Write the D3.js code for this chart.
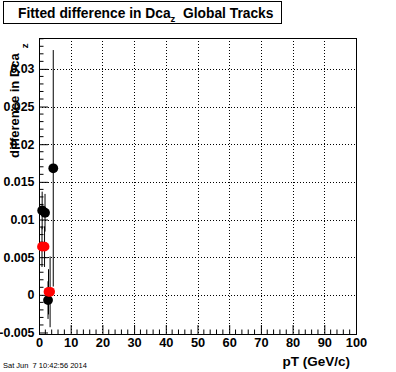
<!DOCTYPE html>
<html>
<head>
<meta charset="utf-8">
<script src="https://cdn.jsdelivr.net/npm/d3@7"></script>
<style>
  body { margin: 0; background: #fff; }
  text { font-family: "Liberation Sans", Arial, sans-serif; }
</style>
</head>
<body>
<svg id="chart" width="396" height="372"></svg>
<script>
// black series (pT, value, error)
var blackPt  = [1.0, 1.9, 4.5, 2.85];
var blackVal = [0.0112, 0.0109, 0.0168, -0.0007];
var blackErr = [0.0025, 0.0025, 0.0157, 0.0025];
// red series
var redPt  = [0.95, 1.75, 3.0, 3.5];
var redVal = [0.0064, 0.0064, 0.0004, 0.0004];
var redErr = [0.0027, 0.0027, 0.0030, 0.0047];

var xTicks = [0, 10, 20, 30, 40, 50, 60, 70, 80, 90, 100];
var yTicks = [-0.005, 0, 0.005, 0.01, 0.015, 0.02, 0.025, 0.03];

var svg = d3.select("#chart");
var padL = 39, padR = 356, padT = 38, padB = 334;

var x = d3.scaleLinear().domain([0, 100]).range([padL, padR]);
var y = d3.scaleLinear().domain([-0.0052, 0.0341]).range([padB, padT]);

// grid
svg.append("g").selectAll("line").data(xTicks.slice(1, -1)).enter().append("line")
  .attr("x1", d => Math.round(x(d)) + 0.5).attr("x2", d => Math.round(x(d)) + 0.5)
  .attr("y1", padT).attr("y2", padB)
  .attr("stroke", "#000").attr("stroke-width", 1).attr("stroke-dasharray", "1,2");
svg.append("g").selectAll("line").data(yTicks.filter(d => d > -0.005)).enter().append("line")
  .attr("x1", padL).attr("x2", padR)
  .attr("y1", d => Math.round(y(d)) + 0.5).attr("y2", d => Math.round(y(d)) + 0.5)
  .attr("stroke", "#000").attr("stroke-width", 1).attr("stroke-dasharray", "1,2");

// axes
var xAxis = d3.axisBottom(x).tickValues(xTicks).tickSize(-9).tickPadding(4)
  .tickFormat(d3.format("d"));
var gx = svg.append("g").attr("transform", "translate(0," + padB + ")").call(xAxis);
var xMinor = d3.range(0, 100.1, 2).filter(d => d % 10 != 0);
gx.selectAll(".minor").data(xMinor).enter().append("line").attr("class", "minor")
  .attr("x1", d => x(d)).attr("x2", d => x(d)).attr("y1", 0).attr("y2", -4.5)
  .attr("stroke", "#000");

var yAxis = d3.axisLeft(y).tickValues(yTicks).tickSize(-9).tickPadding(4.5)
  .tickFormat(d => d == 0 ? "0" : String(+d.toFixed(3)));
var gy = svg.append("g").attr("transform", "translate(" + padL + ",0)").call(yAxis);
var yMinor = d3.range(-0.005, 0.0341, 0.001).filter(d => Math.abs(Math.round(d * 1000) % 5) != 0);
gy.selectAll(".minor").data(yMinor).enter().append("line").attr("class", "minor")
  .attr("x1", 0).attr("x2", 4.5).attr("y1", d => y(d)).attr("y2", d => y(d))
  .attr("stroke", "#000");

[gx, gy].forEach(function(g) {
  g.select(".domain").remove();
  g.selectAll("text").attr("font-size", 12.8).attr("font-weight", "bold")
    .attr("font-family", "Liberation Sans, Arial, sans-serif").attr("fill", "#000");
  g.selectAll(".tick line").attr("stroke", "#000");
});
gy.selectAll("text").attr("font-size", 12.4);

// frame
svg.append("rect").attr("x", padL + 0.5).attr("y", padT + 0.5)
  .attr("width", padR - padL).attr("height", padB - padT)
  .attr("fill", "none").attr("stroke", "#000");

// error bars + markers
function series(pt, val, err, color) {
  var g = svg.append("g");
  g.selectAll("line").data(pt).enter().append("line")
    .attr("x1", d => x(d)).attr("x2", d => x(d))
    .attr("y1", (d, i) => y(val[i] + err[i])).attr("y2", (d, i) => y(val[i] - err[i]))
    .attr("stroke", "#000").attr("stroke-width", 1);
  g.selectAll("circle").data(pt).enter().append("circle")
    .attr("cx", d => x(d)).attr("cy", (d, i) => y(val[i]))
    .attr("r", 4.9).attr("fill", color);
}
series(blackPt, blackVal, blackErr, "#000");
series(redPt, redVal, redErr, "#f00");

// title box
svg.append("rect").attr("x", 3.5).attr("y", 1.5).attr("width", 278).attr("height", 22)
  .attr("fill", "#fff").attr("stroke", "#000");
var t = svg.append("text").attr("x", 18).attr("y", 18).attr("font-size", 13.8)
  .attr("font-weight", "bold").attr("xml:space", "preserve");
t.append("tspan").text("Fitted difference in Dca");
t.append("tspan").attr("font-size", 9.5).attr("dy", 4).text("z");
t.append("tspan").attr("dy", -4).text("  Global Tracks");

// y title
var yt = svg.append("text").attr("transform", "translate(19,158) rotate(-90)")
  .attr("font-size", 13).attr("font-weight", "bold");
yt.append("tspan").text("difference in Dca");
yt.append("tspan").attr("font-size", 9.5).attr("dy", 9).attr("dx", 5).text("z");

// x title
svg.append("text").attr("x", 350).attr("y", 366).attr("text-anchor", "end")
  .attr("font-size", 13.5).attr("font-weight", "bold").text("pT (GeV/c)");

// date
svg.append("text").attr("x", 3).attr("y", 368).attr("font-size", 7.5)
  .attr("xml:space", "preserve").text("Sat Jun  7 10:42:56 2014");
</script>
</body>
</html>
